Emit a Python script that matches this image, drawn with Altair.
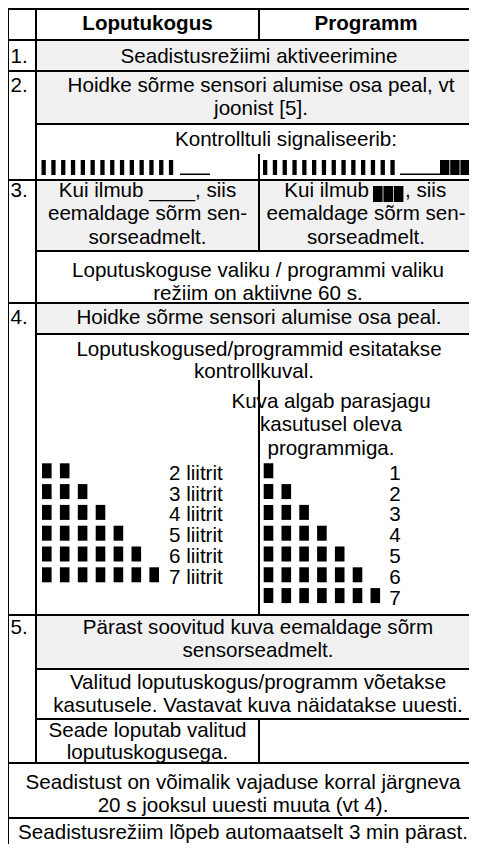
import altair as alt
import pandas as pd

# ---------------- content (values / text) ----------------
header_texts = ["Loputukogus", "Programm"]
step_labels = ["1.", "2.", "3.", "4.", "5."]
litre_counts = [2, 3, 4, 5, 6, 7]
litre_labels = ["2 liitrit", "3 liitrit", "4 liitrit", "5 liitrit", "6 liitrit", "7 liitrit"]
program_counts = [1, 2, 3, 4, 5, 6, 7]
program_labels = ["1", "2", "3", "4", "5", "6", "7"]
signal_bar_count = 14
signal_block_count = 3
inline_block_count = 3

row1_text = ["Seadistusrežiimi aktiveerimine"]
row2_text = ["Hoidke sõrme sensori alumise osa peal, vt", "joonist [5]."]
signal_text = ["Kontrolltuli signaliseerib:"]
row3_left_text = ["Kui ilmub ____,  siis", "eemaldage sõrm sen-", "sorseadmelt."]
row3_right_text = ["Kui ilmub", ",  siis", "eemaldage sõrm sen-", "sorseadmelt."]
mode_text = ["Loputuskoguse valiku / programmi valiku", "režiim on aktiivne 60 s."]
row4_text = ["Hoidke sõrme sensori alumise osa peal."]
display_text = ["Loputuskogused/programmid esitatakse", "kontrollkuval."]
start_text = ["Kuva algab parasjagu", "kasutusel oleva", "programmiga."]
row5_text = ["Pärast soovitud kuva eemaldage sõrm", "sensorseadmelt."]
chosen_text = ["Valitud loputuskogus/programm võetakse", "kasutusele. Vastavat kuva näidatakse uuesti."]
rinse_text = ["Seade loputab valitud", "loputuskogusega."]
change_text = ["Seadistust on võimalik vajaduse korral järgneva", "20 s jooksul uuesti muuta (vt 4)."]
end_text = ["Seadistusrežiim lõpeb automaatselt 3 min pärast."]

# ---------------- layout (page pixel grid) ----------------
X0, X_NUM, X_MID, X_END = 8, 36, 259, 469
Y0, Y_END = 8, 844
h_lines = [(9, X0), (40, X0), (71, X0), (124, X_NUM), (180, X0), (251, X_NUM),
           (303, X0), (334, X_NUM), (615, X0), (669, X_NUM), (719, X_NUM),
           (763, X0), (818, X0)]
v_lines = [(X0, 9, 852), (X_NUM, 9, 763), (X_MID, 9, 40), (X_MID, 155, 251),
           (X_MID, 381, 615), (X_MID, 719, 763)]
grey_cells = [(40, 71), (71, 124), (180, 251), (303, 334), (615, 669)]
LH = 23.3
FS = 20.6
C1, C2, CF, CW = 147.5, 366, 258, 243

hl = pd.DataFrame([{"x1": xs, "x2": X_END + 10, "y": y} for y, xs in h_lines])
vl = pd.DataFrame([{"x": x, "y1": a, "y2": b} for x, a, b in v_lines])
fills = pd.DataFrame([{"x1": X_NUM + 1, "x2": X_END + 10, "y1": a + 1, "y2": b - 1} for a, b in grey_cells])

center, left, right, bold = [], [], [], []


def block(lines, cx, y, store=center, lh=LH):
    for i, t in enumerate(lines):
        store.append({"x": cx, "y": y + i * lh, "t": t})


bold.append({"x": C1, "y": 30, "t": header_texts[0]})
bold.append({"x": C2, "y": 30, "t": header_texts[1]})
for lab, y in zip(step_labels, [63, 92, 197, 324, 634]):
    left.append({"x": 10.5, "y": y, "t": lab})
block(row1_text, 259, 63)
block(row2_text, 261, 92)
block(signal_text, 286, 146)
center.append({"x": C1, "y": 197, "t": row3_left_text[0]})
block(row3_left_text[1:], C1, 197 + LH)
right.append({"x": 369, "y": 197, "t": row3_right_text[0]})
left.append({"x": 405, "y": 197, "t": row3_right_text[1]})
block(row3_right_text[2:], C2, 197 + LH)
block(mode_text, CF, 277)
block(row4_text, 259, 324)
center.append({"x": 259, "y": 356, "t": display_text[0]})
center.append({"x": 254, "y": 378, "t": display_text[1]})
block(start_text, 331, 408)
block(row5_text, CF, 634)
block(chosen_text, CF, 689)
block(rinse_text, C1, 737, lh=21.5)
block(change_text, CW, 789, lh=22.5)
block(end_text, CW, 839)

STAIR_TOP, STAIR_PITCH, STAIR_H = 463.3, 20.8, 15
rects = []
for i, (n, lab) in enumerate(zip(litre_counts, litre_labels)):
    top = STAIR_TOP + i * STAIR_PITCH
    for k in range(n):
        x = 42 + k * 17.9
        rects.append({"x1": x, "x2": x + 9.6, "y1": top, "y2": top + STAIR_H})
    left.append({"x": 169, "y": top + 16.5, "t": lab})
for i, (n, lab) in enumerate(zip(program_counts, program_labels)):
    top = STAIR_TOP + i * STAIR_PITCH
    for k in range(n):
        x = 263.7 + k * 17.8
        rects.append({"x1": x, "x2": x + 9.6, "y1": top, "y2": top + STAIR_H})
    center.append({"x": 395, "y": top + 16.5, "t": lab})

# signal row bars
for start in (41.5, 263):
    for k in range(signal_bar_count):
        x = start + k * 9.8
        rects.append({"x1": x, "x2": x + 4.3, "y1": 160, "y2": 175})
for a, b in ((180, 210), (400, 440)):
    rects.append({"x1": a, "x2": b, "y1": 173.5, "y2": 175})
for k in range(signal_block_count):
    x = 440 + k * 10.2
    rects.append({"x1": x, "x2": x + 9.4, "y1": 160, "y2": 175})
for k in range(inline_block_count):
    x = 373 + k * 10.4
    rects.append({"x1": x, "x2": x + 9.6, "y1": 186, "y2": 202})

rects = pd.DataFrame(rects)

# ---------------- chart ----------------
xs = alt.Scale(domain=[X0, X_END], nice=False, zero=False)
ys = alt.Scale(domain=[Y0, Y_END], nice=False, zero=False, reverse=True)


def X(f):
    return alt.X(f, type="quantitative", scale=xs, axis=None)


def Y(f):
    return alt.Y(f, type="quantitative", scale=ys, axis=None)


FONT = "Liberation Sans, Arial, Helvetica, sans-serif"

fill_layer = alt.Chart(fills).mark_rect(color="#f1f1f1").encode(
    x=X("x1"), x2="x2", y=Y("y1"), y2="y2")
rect_layer = alt.Chart(rects).mark_rect(color="black").encode(
    x=X("x1"), x2="x2", y=Y("y1"), y2="y2")
hline_layer = alt.Chart(hl).mark_rule(color="black", strokeWidth=2, strokeCap="square").encode(
    x=X("x1"), x2="x2", y=Y("y"))
vline_layer = alt.Chart(vl).mark_rule(color="black", strokeWidth=2, strokeCap="square").encode(
    x=X("x"), y=Y("y1"), y2="y2")


def text_layer(rows, align, weight="normal"):
    return alt.Chart(pd.DataFrame(rows)).mark_text(
        align=align, baseline="alphabetic", font=FONT, fontSize=FS,
        fontWeight=weight, color="black").encode(x=X("x"), y=Y("y"), text="t:N")


chart = alt.layer(
    fill_layer, rect_layer, hline_layer, vline_layer,
    text_layer(bold, "center", "bold"),
    text_layer(center, "center"),
    text_layer(left, "left"),
    text_layer(right, "right"),
).properties(
    width=461, height=836, padding=0, autosize="none", background="white"
).configure_view(strokeWidth=0)

chart.save("out.html", embed_options={"renderer": "svg", "actions": False})
